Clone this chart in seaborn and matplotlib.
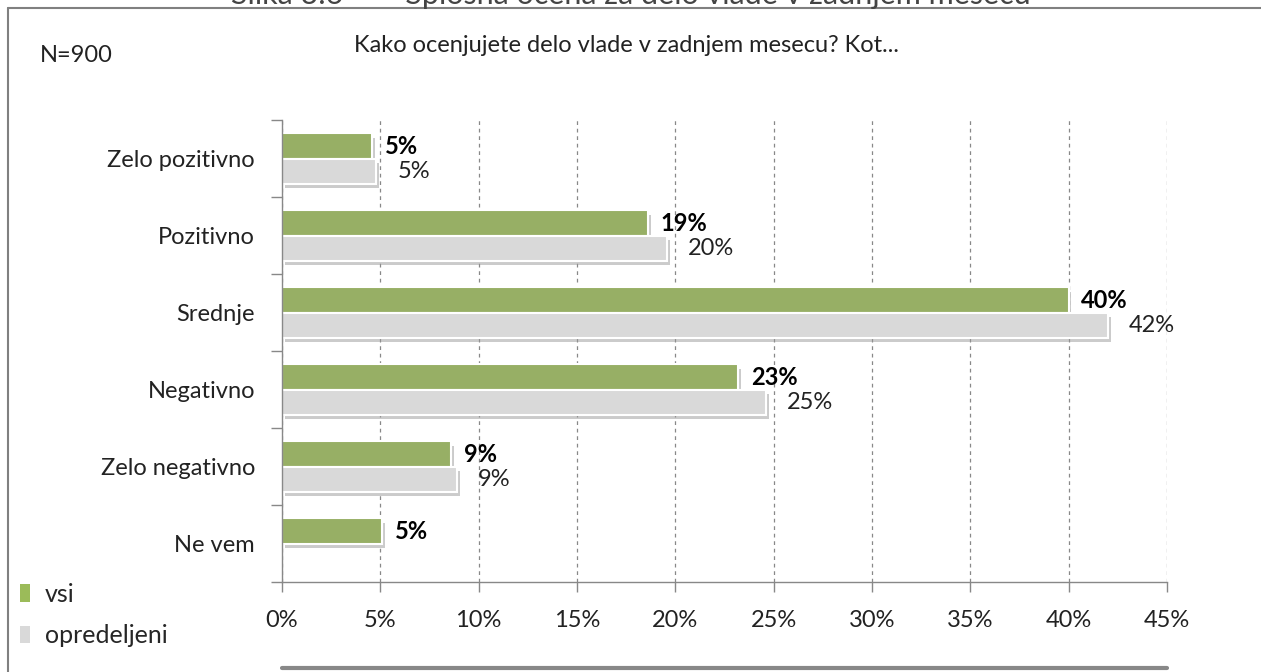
import numpy as np
import pandas as pd
import seaborn as sns
import matplotlib
matplotlib.use('Agg')
import matplotlib.pyplot as plt
import matplotlib.patheffects as pe
from matplotlib.lines import Line2D
from matplotlib.patches import Patch
from matplotlib.ticker import FixedLocator

# Podatki
kategorije = ['Zelo pozitivno', 'Pozitivno', 'Srednje', 'Negativno',
              'Zelo negativno', 'Ne vem']
vsi = [4.6, 18.6, 40.0, 23.2, 8.6, 5.1]
opredeljeni = [4.8, 19.6, 42.0, 24.6, 8.9, np.nan]
skupine = ['vsi', 'opredeljeni']
barve = ['#9BBB59', '#D9D9D9']
x_ticks = [0, 5, 10, 15, 20, 25, 30, 35, 40, 45]

df = pd.DataFrame({
    'kategorija': kategorije * 2,
    'skupina': [skupine[0]] * len(kategorije) + [skupine[1]] * len(kategorije),
    'vrednost': vsi + opredeljeni,
})

sns.set_style('white')
plt.rcParams['font.family'] = ['Lato', 'DejaVu Sans']
FS = 17

fig = plt.figure(figsize=(12.61, 6.72), dpi=100)
ax = fig.add_axes([0.2236, 0.1339, 0.7019, 0.6875])

sns.barplot(data=df, y='kategorija', x='vrednost', hue='skupina',
            order=kategorije, hue_order=skupine, palette=barve,
            width=0.65, orient='h', edgecolor='white', linewidth=1.5,
            legend=False, ax=ax)

# senca pod stolpci
shadow = [pe.SimplePatchShadow(offset=(2, -3), shadow_rgbFace='#999999', alpha=0.5),
          pe.Normal()]
for p in ax.patches:
    p.set_path_effects(shadow)

# Oznake vrednosti
ax.bar_label(ax.containers[0], fmt=lambda v: f'{v:.0f}%', padding=9,
             fontsize=FS, fontweight='bold', color='black')
ax.bar_label(ax.containers[1], fmt=lambda v: f'{v:.0f}%', padding=15,
             fontsize=FS, color='#222222')

# Osi
ax.set_xlim(0, 45)
ax.set_ylim(len(kategorije) - 0.5, -0.5)
ax.set_xticks(x_ticks)
ax.set_xticklabels([f'{t}%' for t in x_ticks], fontsize=FS, color='#222222')
ax.tick_params(axis='x', length=7, width=1, color='#888888', pad=13, direction='out',
               bottom=True)
ax.tick_params(axis='y', which='major', length=0, pad=19.5, labelsize=FS,
               labelcolor='#222222')
ax.yaxis.set_minor_locator(FixedLocator(np.arange(-0.5, len(kategorije), 1)))
ax.tick_params(axis='y', which='minor', length=8, width=1, color='#888888', left=True)
ax.set_xlabel('')
ax.set_ylabel('')

ax.grid(axis='x', color='#888888', linestyle=(0, (3, 3)), linewidth=0.9)
ax.set_axisbelow(True)
for s in ['top', 'right']:
    ax.spines[s].set_visible(False)
for s in ['left', 'bottom']:
    ax.spines[s].set_color('#888888')
    ax.spines[s].set_linewidth(1)

# Legenda
handles = [Patch(facecolor=c, edgecolor='none') for c in barve]
fig.legend(handles, skupine, loc='upper left', bbox_to_anchor=(-0.002, 1 - 560 / 672),
           frameon=False, fontsize=18, handlelength=0.4, handleheight=0.7,
           handletextpad=0.6, labelspacing=0.75)

# Naslovi
fig.text(0.497, 1 - 45 / 672, 'Kako ocenjujete delo vlade v zadnjem mesecu? Kot...',
         ha='center', va='center', fontsize=FS, color='#222222')
fig.text(40 / 1261, 1 - 55 / 672, 'N=900', ha='left', va='center', fontsize=FS,
         color='#222222')
fig.text(0.5, 1 - 4 / 672, 'Slika 3.6        Splošna ocena za delo vlade v zadnjem mesecu',
         ha='center', va='baseline', fontsize=22, color='#444444')

# Okvir
fig.add_artist(Line2D([8 / 1261, 1], [1 - 8 / 672, 1 - 8 / 672],
                      transform=fig.transFigure, color='#808080', lw=1.5))
fig.add_artist(Line2D([8 / 1261, 8 / 1261], [0, 1 - 8 / 672],
                      transform=fig.transFigure, color='#808080', lw=1.5))
fig.add_artist(Line2D([282 / 1261, 1167 / 1261], [1 - 668 / 672, 1 - 668 / 672],
                      transform=fig.transFigure, color='#888888', lw=3))

plt.savefig('out.png', dpi=100)
